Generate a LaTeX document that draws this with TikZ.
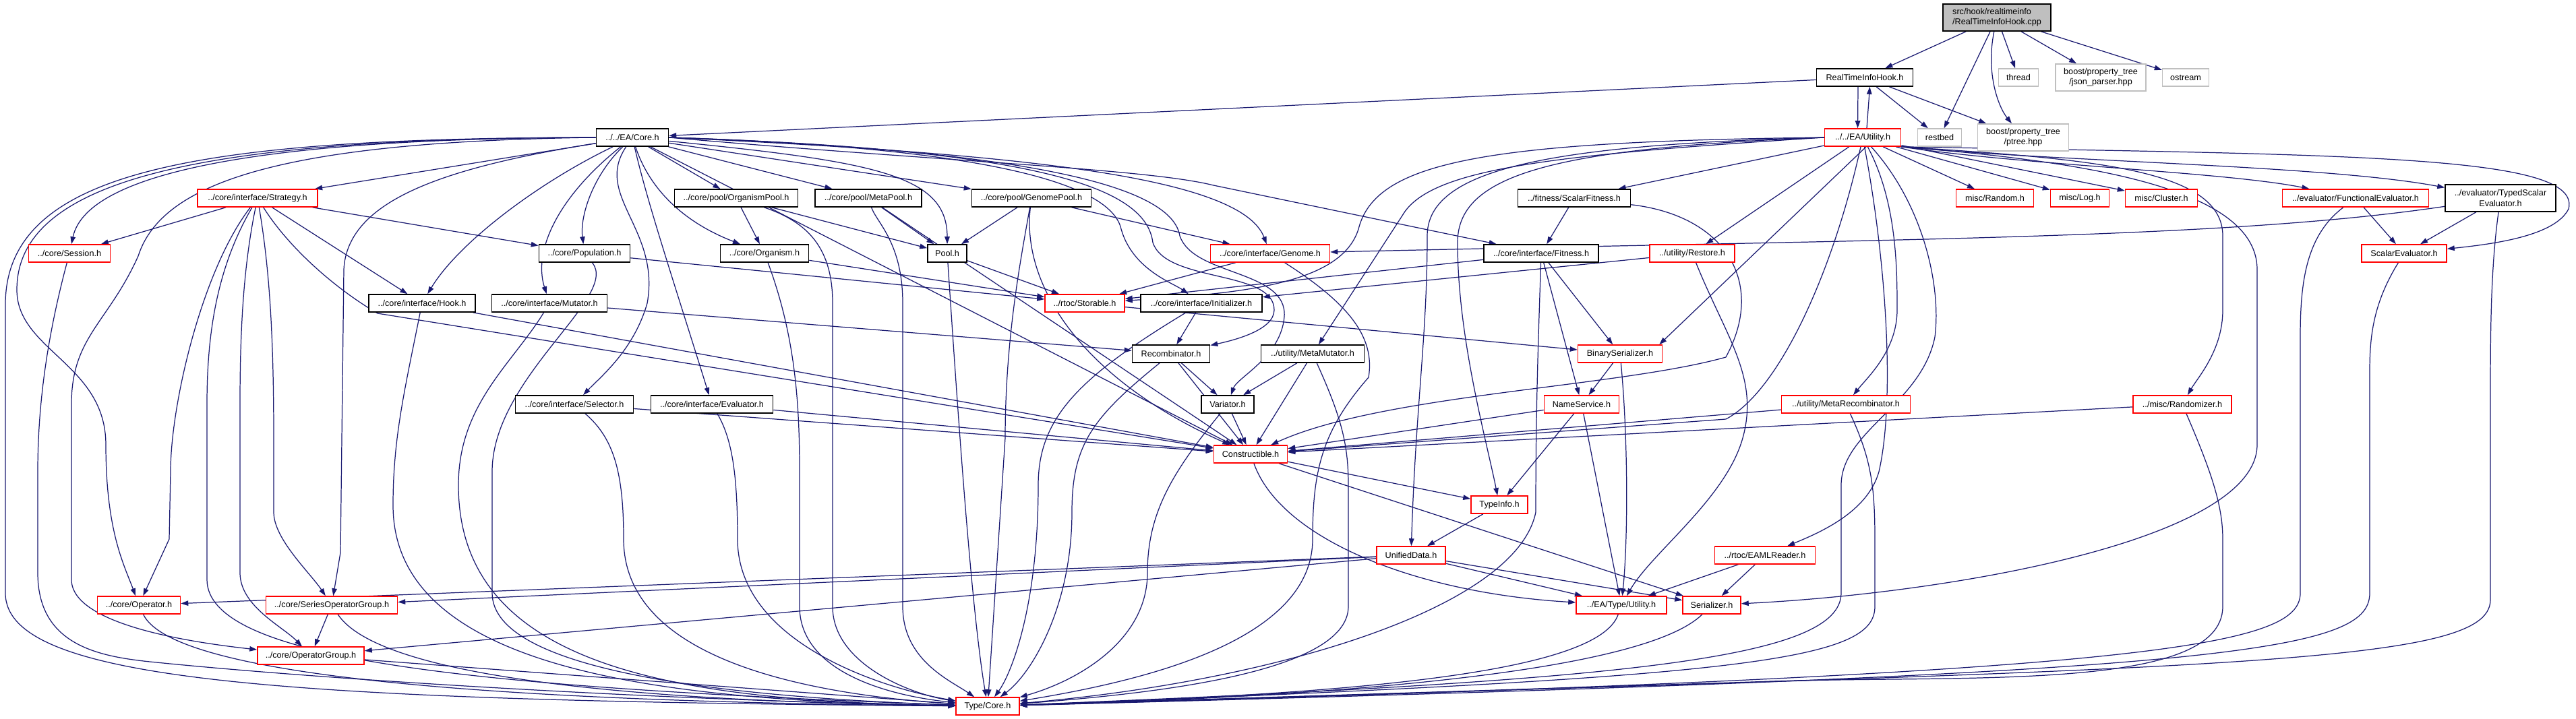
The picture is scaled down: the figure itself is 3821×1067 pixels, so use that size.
\documentclass[tikz,border=0pt]{standalone}
\usepackage{fontspec}
\newfontfamily\dxfont{Liberation Sans}
\usetikzlibrary{arrows.meta,backgrounds}
\definecolor{edgeblue}{HTML}{191970}
\definecolor{boxred}{HTML}{FF0000}
\definecolor{boxgrey}{HTML}{BFBFBF}
\tikzset{
  file/.style={draw=black, line width=0.9pt, fill=white, inner sep=0pt,
    minimum height=0.52cm, font=\dxfont\fontsize{7.2}{8.6}\selectfont},
  trunc/.style={file, draw=boxred},
  sysfile/.style={file, draw=boxgrey},
  srcfile/.style={file, fill=boxgrey},
  dep/.style={edgeblue, line width=0.7pt, -{Triangle[length=0.22cm,width=0.15cm]}},
}
\begin{document}
\begin{tikzpicture}[x=0.02cm, y=-0.02cm]
    \useasboundingbox (0,0) rectangle (3821,1067);

    % source file and the headers it pulls in directly
    \node[srcfile, minimum width=3.2cm, minimum height=0.8cm, align=left] (cpp) at (2962,26) {src/hook/realtimeinfo\\/RealTimeInfoHook.cpp};
    \node[file, minimum width=2.86cm] (rtih) at (2766,115) {RealTimeInfoHook.h};
    \node[sysfile, minimum width=1.18cm] (thread) at (2994,115) {thread};
    \node[sysfile, minimum width=2.68cm, minimum height=0.8cm, align=center] (json) at (3116,115) {boost/property\_tree\\/json\_parser.hpp};
    \node[sysfile, minimum width=1.38cm] (ostream) at (3242,115) {ostream};

    % second row
    \node[file, minimum width=2.14cm] (core) at (938,204) {../../EA/Core.h};
    \node[trunc, minimum width=2.26cm] (util) at (2763,204) {../../EA/Utility.h};
    \node[sysfile, minimum width=1.3cm] (restbed) at (2877,204) {restbed};
    \node[sysfile, minimum width=2.7cm, minimum height=0.8cm, align=center] (ptree) at (3001,204) {boost/property\_tree\\/ptree.hpp};

    % third row
    \node[trunc, minimum width=3.56cm] (strategy) at (382,294) {../core/interface/Strategy.h};
    \node[file, minimum width=3.66cm] (orgpool) at (1092,294) {../core/pool/OrganismPool.h};
    \node[file, minimum width=3.16cm] (metapool) at (1288,294) {../core/pool/MetaPool.h};
    \node[file, minimum width=3.54cm] (genomepool) at (1530,294) {../core/pool/GenomePool.h};
    \node[file, minimum width=3.34cm] (scalarfit) at (2335,294) {../fitness/ScalarFitness.h};
    \node[trunc, minimum width=2.3cm] (random) at (2959,294) {misc/Random.h};
    \node[trunc, minimum width=1.74cm] (log) at (3085,294) {misc/Log.h};
    \node[trunc, minimum width=2.14cm] (cluster) at (3206,294) {misc/Cluster.h};
    \node[trunc, minimum width=4.34cm] (funceval) at (3494,294) {../evaluator/FunctionalEvaluator.h};
    \node[file, minimum width=3.28cm, minimum height=0.8cm, align=center] (typedscalar) at (3709,294) {../evaluator/TypedScalar\\Evaluator.h};

    % fourth row
    \node[trunc, minimum width=2.42cm] (session) at (103,376) {../core/Session.h};
    \node[file, minimum width=2.7cm] (population) at (867,376) {../core/Population.h};
    \node[file, minimum width=2.62cm] (organism) at (1134,376) {../core/Organism.h};
    \node[file, minimum width=1.16cm] (pool) at (1405,376) {Pool.h};
    \node[trunc, minimum width=3.54cm] (genome) at (1884,376) {../core/interface/Genome.h};
    \node[file, minimum width=3.4cm] (fitness) at (2286,376) {../core/interface/Fitness.h};
    \node[trunc, minimum width=2.52cm] (restore) at (2510,376) {../utility/Restore.h};
    \node[trunc, minimum width=2.52cm] (scalareval) at (3566,376) {ScalarEvaluator.h};

    \node[file, minimum width=3.16cm] (hook) at (626,450) {../core/interface/Hook.h};
    \node[file, minimum width=3.42cm] (mutator) at (815,450) {../core/interface/Mutator.h};
    \node[trunc, minimum width=2.36cm] (storable) at (1609,450) {../rtoc/Storable.h};
    \node[file, minimum width=3.6cm] (initializer) at (1782,450) {../core/interface/Initializer.h};

    \node[file, minimum width=2.3cm] (recomb) at (1737,525) {Recombinator.h};
    \node[file, minimum width=3.06cm] (metamut) at (1947,525) {../utility/MetaMutator.h};
    \node[trunc, minimum width=2.5cm] (binser) at (2403,525) {BinarySerializer.h};

    \node[file, minimum width=3.5cm] (selector) at (852,600) {../core/interface/Selector.h};
    \node[file, minimum width=3.62cm] (evaluator) at (1056,600) {../core/interface/Evaluator.h};
    \node[file, minimum width=1.56cm] (variator) at (1821,600) {Variator.h};
    \node[trunc, minimum width=2.22cm] (nameservice) at (2346,600) {NameService.h};
    \node[trunc, minimum width=3.82cm] (metarecomb) at (2738,600) {../utility/MetaRecombinator.h};
    \node[trunc, minimum width=2.92cm] (randomizer) at (3237,600) {../misc/Randomizer.h};

    \node[trunc, minimum width=2.18cm] (constructible) at (1855,674) {Constructible.h};
    \node[trunc, minimum width=1.68cm] (typeinfo) at (2224,749) {TypeInfo.h};
    \node[trunc, minimum width=2.04cm] (unified) at (2093,824) {UnifiedData.h};
    \node[trunc, minimum width=2.98cm] (eamlreader) at (2618,824) {../rtoc/EAMLReader.h};

    \node[trunc, minimum width=2.46cm] (operator) at (206,898) {../core/Operator.h};
    \node[trunc, minimum width=3.9cm] (seriesop) at (492,898) {../core/SeriesOperatorGroup.h};
    \node[trunc, minimum width=2.68cm] (typeutil) at (2405,898) {../EA/Type/Utility.h};
    \node[trunc, minimum width=1.72cm] (serializer) at (2539,898) {Serializer.h};
    \node[trunc, minimum width=3.16cm] (opgroup) at (461,973) {../core/OperatorGroup.h};
    \node[trunc, minimum width=1.88cm] (typecore) at (1465,1048) {Type/Core.h};

    \begin{scope}[on background layer]
    % the .cpp file
    \draw[dep] (cpp) -- (rtih);
    \draw[dep] (cpp) -- (restbed);
    \draw[dep] (cpp) -- (thread);
    \draw[dep] (cpp) -- (json);
    \draw[dep] (cpp) -- (ostream);
    \draw[dep] (cpp) .. controls (2945,110) and (2965,160) .. (ptree);

    % RealTimeInfoHook.h and the cycle with Utility.h
    \draw[dep] (rtih) -- (core);
    \draw[dep] ([xshift=-0.2cm]rtih.south) -- ([xshift=-0.15cm]util.north);
    \draw[dep] ([xshift=0.12cm]util.north) -- ([xshift=0.15cm]rtih.south);
    \draw[dep] (rtih) -- (restbed);
    \draw[dep] (rtih) -- (ptree);

    % Core.h
    \draw[dep] (core) -- (strategy);
    \draw[dep] (core) -- (orgpool);
    \draw[dep] (core) -- (metapool);
    \draw[dep] (core) -- (genomepool);
    \draw[dep] (core) -- (constructible);
    \draw[dep] (core.west) .. controls (300,205) and (10,250) .. (8,450) -- (8,880)
        .. controls (8,1010) and (400,1040) .. (typecore);
    \draw[dep] (core.west) .. controls (320,205) and (25,260) .. (25,430)
        .. controls (25,520) and (157,540) .. (157,660) .. controls (157,790) and (185,840) .. (operator);
    \draw[dep] (core.west) .. controls (420,205) and (130,250) .. (session);
    \draw[dep] (core.west) .. controls (420,210) and (240,270) .. (205,380)
        .. controls (160,480) and (106,500) .. (106,600) -- (106,860) .. controls (106,930) and (300,955) .. (opgroup);
    \draw[dep] (core) .. controls (650,250) and (515,300) .. (510,400) -- (505,820) -- (seriesop);
    \draw[dep] (core) .. controls (800,270) and (680,360) .. (hook);
    \draw[dep] (core) .. controls (830,290) and (790,370) .. (mutator);
    \draw[dep] (core) .. controls (880,260) and (860,320) .. (population);
    \draw[dep] (core) .. controls (880,290) and (980,340) .. (960,450) .. controls (940,520) and (890,560) .. (selector);
    \draw[dep] (core) .. controls (960,300) and (1000,420) .. (evaluator);
    \draw[dep] (core) .. controls (970,300) and (1040,340) .. (organism);
    \draw[dep] (core) .. controls (1300,240) and (1405,260) .. (pool);
    \draw[dep] (core.east) .. controls (1500,228) and (1840,260) .. (genome);
    \draw[dep] (core.east) .. controls (1400,240) and (1700,250) .. (1800,275) -- (fitness);
    \draw[dep] (core.east) .. controls (1500,220) and (1650,280) .. (1663,340) .. controls (1680,400) and (1740,420) .. (initializer);
    \draw[dep] (core.east) .. controls (1550,222) and (1700,280) .. (1710,360)
        .. controls (1730,420) and (1890,400) .. (1890,460) .. controls (1890,490) and (1830,505) .. (recomb);
    \draw[dep] (core.east) .. controls (1600,225) and (1740,290) .. (1750,350)
        .. controls (1770,410) and (1910,400) .. (1905,470) .. controls (1900,530) and (1835,560) .. (variator);

    % Strategy.h
    \draw[dep] (strategy) -- (session);
    \draw[dep] (strategy) -- (population);
    \draw[dep] (strategy) -- (hook);
    \draw[dep] (strategy) .. controls (300,400) and (253,600) .. (253,700) -- (251,800) -- (operator);
    \draw[dep] (strategy) .. controls (320,400) and (307,500) .. (307,600) -- (307,860)
        .. controls (307,980) and (700,1020) .. (typecore);
    \draw[dep] (strategy) .. controls (360,400) and (356,500) .. (356,600) -- (356,850)
        .. controls (356,900) and (420,930) .. (opgroup);
    \draw[dep] (strategy) .. controls (400,400) and (406,500) .. (406,650) -- (406,760)
        .. controls (406,800) and (460,850) .. (seriesop);
    \draw[dep] (strategy) .. controls (430,370) and (500,430) .. (560,465) -- (constructible);

    % pools
    \draw[dep] (orgpool) -- (organism);
    \draw[dep] (orgpool) -- (pool);
    \draw[dep] (orgpool) .. controls (1200,330) and (1235,370) .. (1235,450) -- (1235,900)
        .. controls (1235,985) and (1350,1030) .. (typecore);
    \draw[dep] (metapool) -- (pool);
    \draw[dep] (metapool) -- (constructible);
    \draw[dep] (metapool) .. controls (1300,330) and (1339,360) .. (1339,450) -- (1339,900)
        .. controls (1339,980) and (1410,1010) .. (typecore);
    \draw[dep] (genomepool) -- (pool);
    \draw[dep] (genomepool) -- (genome);
    \draw[dep] (genomepool) .. controls (1515,380) and (1491,500) .. (1491,650) -- (typecore);
    \draw[dep] (genomepool) .. controls (1515,420) and (1600,560) .. (constructible);

    % core level headers
    \draw[dep] (population) -- (storable);
    \draw[dep] (population) .. controls (920,440) and (730,560) .. (730,700) -- (730,880)
        .. controls (730,1000) and (1100,1035) .. (typecore);
    \draw[dep] (organism) -- (storable);
    \draw[dep] (organism) .. controls (1180,500) and (1186,600) .. (1186,700) -- (1186,900)
        .. controls (1186,990) and (1300,1030) .. (typecore);
    \draw[dep] (pool) -- (storable);
    \draw[dep] (pool) .. controls (1420,600) and (1440,900) .. (typecore);
    \draw[dep] (hook) -- (constructible);
    \draw[dep] (hook) .. controls (600,580) and (583,650) .. (583,750)
        .. controls (583,1000) and (1000,1040) .. (typecore);
    \draw[dep] (mutator) -- (recomb);
    \draw[dep] (mutator) .. controls (760,540) and (680,600) .. (680,720)
        .. controls (680,990) and (1000,1040) .. (typecore);
    \draw[dep] (selector) -- (constructible);
    \draw[dep] (selector) .. controls (910,650) and (925,700) .. (925,800)
        .. controls (925,980) and (1200,1030) .. (typecore);
    \draw[dep] (evaluator) -- (constructible);
    \draw[dep] (evaluator) .. controls (1085,650) and (1094,700) .. (1094,800)
        .. controls (1094,950) and (1300,1020) .. (typecore);
    \draw[dep] (session) .. controls (70,500) and (56,600) .. (56,700) -- (56,850)
        .. controls (56,960) and (150,975) .. (232,983) .. controls (500,1010) and (1000,1040) .. (typecore);
    \draw[dep] (operator) .. controls (250,990) and (600,1040) .. (typecore);
    \draw[dep] (seriesop) -- (opgroup);
    \draw[dep] (seriesop) .. controls (560,1000) and (900,1040) .. (typecore);
    \draw[dep] (opgroup) -- (typecore);

    % interfaces
    \draw[dep] (genome) -- (storable);
    \draw[dep] (genome) .. controls (2000,450) and (2040,500) .. (2030,560)
        .. controls (1960,640) and (1947,700) .. (1947,800) .. controls (1947,950) and (1700,1010) .. (typecore);
    \draw[dep] (fitness) -- (storable);
    \draw[dep] (fitness) -- (binser);
    \draw[dep] (fitness) -- (nameservice);
    \draw[dep] (fitness) .. controls (2282,500) and (2278,600) .. (2278,760)
        .. controls (2250,900) and (1900,1010) .. (typecore);
    \draw[dep] (scalarfit) -- (fitness);
    \draw[dep] (scalarfit) .. controls (2560,320) and (2620,420) .. (2560,530)
        .. controls (2400,575) and (2050,585) .. (constructible);
    \draw[dep] (restore) -- (initializer);
    \draw[dep] (restore) .. controls (2560,500) and (2610,560) .. (2585,650)
        .. controls (2560,740) and (2450,820) .. (typeutil);
    \draw[dep] (storable) -- (binser);
    \draw[dep] (initializer) -- (recomb);
    \draw[dep] (initializer) .. controls (1600,560) and (1540,620) .. (1540,720)
        .. controls (1540,900) and (1500,1000) .. (typecore);
    \draw[dep] (recomb) -- (variator);
    \draw[dep] (recomb) -- (constructible);
    \draw[dep] (recomb) .. controls (1620,620) and (1590,660) .. (1590,760)
        .. controls (1590,900) and (1530,1000) .. (typecore);
    \draw[dep] (metamut) -- (variator);
    \draw[dep] (metamut) -- (constructible);
    \draw[dep] (metamut) .. controls (1990,620) and (2000,660) .. (2000,720) -- (2000,900)
        .. controls (2000,1000) and (1700,1030) .. (typecore);
    \draw[dep] (variator) -- (constructible);
    \draw[dep] (variator) .. controls (1740,700) and (1702,760) .. (1702,850)
        .. controls (1702,950) and (1600,1010) .. (typecore);
    \draw[dep] (binser) -- (nameservice);
    \draw[dep] (binser) .. controls (2415,650) and (2415,800) .. (typeutil);
    \draw[dep] (nameservice) -- (constructible);
    \draw[dep] (nameservice) -- (typeinfo);
    \draw[dep] (nameservice) -- (typeutil);
    \draw[dep] (metarecomb) -- (constructible);
    \draw[dep] (metarecomb) .. controls (2775,680) and (2781,720) .. (2781,800) -- (2781,900)
        .. controls (2781,980) and (2600,1005) .. (typecore);
    \draw[dep] (randomizer) -- (constructible);
    \draw[dep] (randomizer) .. controls (3280,700) and (3297,750) .. (3297,800) -- (3297,900)
        .. controls (3297,1030) and (2900,1000) .. (2600,1012) -- (typecore);

    % bottom layers
    \draw[dep] (constructible) -- (typeinfo);
    \draw[dep] (constructible) .. controls (1900,800) and (2100,880) .. (typeutil);
    \draw[dep] (constructible) -- (serializer);
    \draw[dep] (typeinfo) -- (unified);
    \draw[dep] (unified) -- (operator);
    \draw[dep] (unified) -- (seriesop);
    \draw[dep] (unified) -- (opgroup);
    \draw[dep] (unified) -- (typeutil);
    \draw[dep] (unified) -- (serializer);
    \draw[dep] (eamlreader) -- (typeutil);
    \draw[dep] (eamlreader) -- (serializer);
    \draw[dep] (typeutil) .. controls (2370,1000) and (2000,1030) .. (typecore);
    \draw[dep] (serializer) .. controls (2450,985) and (2100,1030) .. (typecore);

    % evaluators
    \draw[dep] (funceval) -- (scalareval);
    \draw[dep] (funceval) .. controls (3420,350) and (3412,420) .. (3412,500) -- (3412,880)
        .. controls (3412,960) and (3200,1000) .. (typecore);
    \draw[dep] (typedscalar) -- (scalareval);
    \draw[dep] (typedscalar) .. controls (3300,355) and (2800,355) .. (genome);
    \draw[dep] (typedscalar) .. controls (3694,400) and (3694,500) .. (3694,600) -- (3694,890)
        .. controls (3694,990) and (3300,990) .. (typecore);
    \draw[dep] (scalareval) .. controls (3520,450) and (3515,500) .. (3515,550) -- (3515,880)
        .. controls (3515,970) and (3300,1000) .. (typecore);

    % Utility.h
    \draw[dep] (util) -- (scalarfit);
    \draw[dep] (util) -- (random);
    \draw[dep] (util) -- (log);
    \draw[dep] (util) -- (cluster);
    \draw[dep] (util) -- (restore);
    \draw[dep] ([xshift=0.1cm]util.south) -- ([xshift=-0.1cm]binser.north east);
    \draw[dep] (util.south east) .. controls (3000,245) and (3300,255) .. (funceval);
    \draw[dep] (util.south east) .. controls (3050,240) and (3450,245) .. (typedscalar);
    \draw[dep] (util.south east) .. controls (3500,230) and (3830,230) .. (3810,310)
        .. controls (3790,350) and (3700,362) .. (scalareval);
    \draw[dep] (util.south east) .. controls (3100,236) and (3297,250) .. (3297,350) -- (3297,460)
        .. controls (3297,520) and (3260,560) .. (randomizer);
    \draw[dep] (util.south east) .. controls (3100,240) and (3348,280) .. (3348,400) -- (3348,660)
        .. controls (3348,800) and (2900,880) .. (serializer);
    \draw[dep] (util.west) .. controls (2300,230) and (2120,250) .. (2080,320) -- (metamut);
    \draw[dep] (util.west) .. controls (2200,210) and (2040,240) .. (2015,340)
        .. controls (1990,420) and (1850,435) .. (storable);
    \draw[dep] (util.west) .. controls (2300,215) and (2117,250) .. (2117,350)
        .. controls (2117,500) and (2100,600) .. (unified);
    \draw[dep] (util.west) .. controls (2300,220) and (2162,260) .. (2162,360)
        .. controls (2162,500) and (2204,650) .. (typeinfo);
    \draw[dep] (util) .. controls (2720,400) and (2640,580) .. (2560,622) -- (constructible);
    \draw[dep] (util) .. controls (2814,300) and (2814,400) .. (2814,460)
        .. controls (2814,520) and (2770,560) .. (metarecomb);
    \draw[dep] (util) .. controls (2850,300) and (2880,420) .. (2870,500)
        .. controls (2850,600) and (2731,640) .. (2731,720) -- (2731,880)
        .. controls (2731,980) and (2400,1010) .. (typecore);
    \draw[dep] (util) .. controls (2800,400) and (2810,600) .. (2787,700)
        .. controls (2770,760) and (2700,790) .. (eamlreader);
    \end{scope}
\end{tikzpicture}
\end{document}
